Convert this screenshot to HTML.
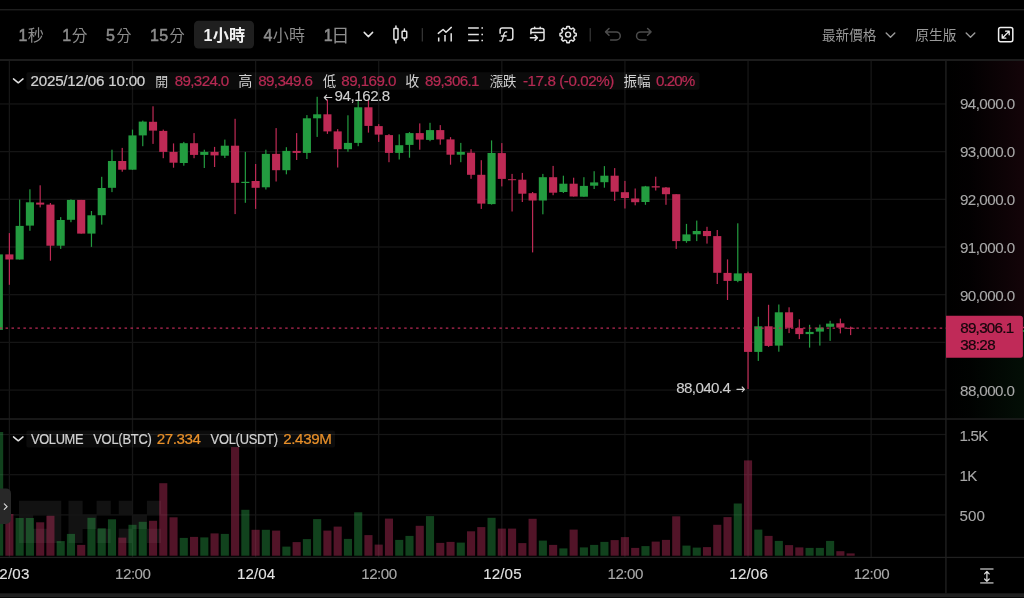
<!DOCTYPE html>
<html><head><meta charset="utf-8"><title>chart</title>
<style>
html,body{margin:0;padding:0;background:#000;}
body{width:1024px;height:598px;overflow:hidden;font-family:"Liberation Sans",sans-serif;}
svg{display:block;position:absolute;left:0;top:0;will-change:transform;}
svg text{font-family:"Liberation Sans","Noto Sans CJK TC",sans-serif;white-space:pre;}
</style></head><body>
<svg width="1024" height="598" viewBox="0 0 1024 598">
<rect width="1024" height="598" fill="#000"/>
<!-- chart -->
<defs><linearGradient id="gr" x1="0" x2="1" y1="0" y2="0"><stop offset="0" stop-color="#c12b57" stop-opacity="0"/><stop offset="0.3" stop-color="#c12b57" stop-opacity="0.012"/><stop offset="1" stop-color="#c12b57" stop-opacity="0.10"/></linearGradient><linearGradient id="gg" x1="0" x2="1" y1="0" y2="0"><stop offset="0" stop-color="#249d42" stop-opacity="0"/><stop offset="0.3" stop-color="#249d42" stop-opacity="0.012"/><stop offset="1" stop-color="#249d42" stop-opacity="0.09"/></linearGradient></defs>
<rect x="0.00" y="9.00" width="1024.00" height="1.40" fill="#1e1e1e"/>
<rect x="0.00" y="59.00" width="1024.00" height="2.00" fill="#1c1c1c"/>
<rect x="946.00" y="61.00" width="78.00" height="267.00" fill="url(#gr)"/>
<rect x="946.00" y="328.00" width="78.00" height="91.00" fill="url(#gg)"/>
<path d="M18.96 500.66h42.29v14.15h-42.29zM18.96 528.80h42.29v14.15h-42.29zM18.96 514.73h14.15v14.15h-14.15zM47.10 514.73h14.15v14.15h-14.15zM68.46 500.66h14.15v42.29h-14.15zM82.53 514.73h14.15v14.15h-14.15zM96.60 500.66h14.15v14.15h-14.15zM96.60 528.80h14.15v14.15h-14.15zM118.76 500.66h14.15v14.15h-14.15zM146.90 500.66h14.15v14.15h-14.15zM132.83 514.73h14.15v14.15h-14.15zM118.76 528.80h14.15v14.15h-14.15zM146.90 528.80h14.15v14.15h-14.15z" fill="#121212"/>
<rect x="8.74" y="61.00" width="1.30" height="496.00" fill="#161616"/>
<rect x="131.85" y="61.00" width="1.30" height="496.00" fill="#161616"/>
<rect x="254.96" y="61.00" width="1.30" height="496.00" fill="#161616"/>
<rect x="378.06" y="61.00" width="1.30" height="496.00" fill="#161616"/>
<rect x="501.17" y="61.00" width="1.30" height="496.00" fill="#161616"/>
<rect x="624.28" y="61.00" width="1.30" height="496.00" fill="#161616"/>
<rect x="747.39" y="61.00" width="1.30" height="496.00" fill="#161616"/>
<rect x="870.50" y="61.00" width="1.30" height="496.00" fill="#161616"/>
<rect x="0.00" y="103.35" width="946.00" height="1.20" fill="#161616"/>
<rect x="0.00" y="151.03" width="946.00" height="1.20" fill="#161616"/>
<rect x="0.00" y="198.72" width="946.00" height="1.20" fill="#161616"/>
<rect x="0.00" y="246.41" width="946.00" height="1.20" fill="#161616"/>
<rect x="0.00" y="294.09" width="946.00" height="1.20" fill="#161616"/>
<rect x="0.00" y="341.77" width="946.00" height="1.20" fill="#161616"/>
<rect x="0.00" y="389.46" width="946.00" height="1.20" fill="#161616"/>
<rect x="0.00" y="433.90" width="946.00" height="1.20" fill="#161616"/>
<rect x="0.00" y="474.10" width="946.00" height="1.20" fill="#161616"/>
<rect x="0.00" y="514.30" width="946.00" height="1.20" fill="#161616"/>
<rect x="0.00" y="418.30" width="1024.00" height="1.45" fill="#212121"/>
<rect x="0.00" y="556.80" width="1024.00" height="1.25" fill="#202020"/>
<rect x="945.25" y="61.00" width="1.35" height="532.30" fill="#202020"/>
<rect x="0.00" y="593.30" width="1024.00" height="4.00" fill="#202020"/>
<rect x="-4.92" y="432.00" width="8.10" height="123.70" fill="#2daa4b" fill-opacity="0.39"/>
<rect x="5.34" y="514.00" width="8.10" height="41.70" fill="#c3305f" fill-opacity="0.42"/>
<rect x="15.60" y="518.00" width="8.10" height="37.70" fill="#2daa4b" fill-opacity="0.39"/>
<rect x="25.86" y="518.00" width="8.10" height="37.70" fill="#2daa4b" fill-opacity="0.39"/>
<rect x="36.12" y="522.30" width="8.10" height="33.40" fill="#c3305f" fill-opacity="0.42"/>
<rect x="46.38" y="515.80" width="8.10" height="39.90" fill="#c3305f" fill-opacity="0.42"/>
<rect x="56.64" y="541.10" width="8.10" height="14.60" fill="#2daa4b" fill-opacity="0.39"/>
<rect x="66.89" y="533.90" width="8.10" height="21.80" fill="#2daa4b" fill-opacity="0.39"/>
<rect x="77.15" y="544.90" width="8.10" height="10.80" fill="#c3305f" fill-opacity="0.42"/>
<rect x="87.41" y="517.80" width="8.10" height="37.90" fill="#2daa4b" fill-opacity="0.39"/>
<rect x="97.67" y="528.30" width="8.10" height="27.40" fill="#2daa4b" fill-opacity="0.39"/>
<rect x="107.93" y="519.30" width="8.10" height="36.40" fill="#2daa4b" fill-opacity="0.39"/>
<rect x="118.19" y="537.60" width="8.10" height="18.10" fill="#c3305f" fill-opacity="0.42"/>
<rect x="128.45" y="524.80" width="8.10" height="30.90" fill="#2daa4b" fill-opacity="0.39"/>
<rect x="138.71" y="521.80" width="8.10" height="33.90" fill="#2daa4b" fill-opacity="0.39"/>
<rect x="148.97" y="520.80" width="8.10" height="34.90" fill="#c3305f" fill-opacity="0.42"/>
<rect x="159.22" y="483.20" width="8.10" height="72.50" fill="#c3305f" fill-opacity="0.42"/>
<rect x="169.48" y="517.30" width="8.10" height="38.40" fill="#c3305f" fill-opacity="0.42"/>
<rect x="179.74" y="537.90" width="8.10" height="17.80" fill="#2daa4b" fill-opacity="0.39"/>
<rect x="190.00" y="536.90" width="8.10" height="18.80" fill="#c3305f" fill-opacity="0.42"/>
<rect x="200.26" y="537.40" width="8.10" height="18.30" fill="#2daa4b" fill-opacity="0.39"/>
<rect x="210.52" y="533.40" width="8.10" height="22.30" fill="#c3305f" fill-opacity="0.42"/>
<rect x="220.78" y="533.90" width="8.10" height="21.80" fill="#2daa4b" fill-opacity="0.39"/>
<rect x="231.04" y="447.10" width="8.10" height="108.60" fill="#c3305f" fill-opacity="0.42"/>
<rect x="241.30" y="509.80" width="8.10" height="45.90" fill="#2daa4b" fill-opacity="0.39"/>
<rect x="251.56" y="529.80" width="8.10" height="25.90" fill="#c3305f" fill-opacity="0.42"/>
<rect x="261.81" y="529.80" width="8.10" height="25.90" fill="#2daa4b" fill-opacity="0.39"/>
<rect x="272.07" y="530.60" width="8.10" height="25.10" fill="#c3305f" fill-opacity="0.42"/>
<rect x="282.33" y="546.60" width="8.10" height="9.10" fill="#2daa4b" fill-opacity="0.39"/>
<rect x="292.59" y="542.10" width="8.10" height="13.60" fill="#c3305f" fill-opacity="0.42"/>
<rect x="302.85" y="539.10" width="8.10" height="16.60" fill="#2daa4b" fill-opacity="0.39"/>
<rect x="313.11" y="519.10" width="8.10" height="36.60" fill="#2daa4b" fill-opacity="0.39"/>
<rect x="323.37" y="530.60" width="8.10" height="25.10" fill="#c3305f" fill-opacity="0.42"/>
<rect x="333.63" y="526.60" width="8.10" height="29.10" fill="#c3305f" fill-opacity="0.42"/>
<rect x="343.89" y="538.90" width="8.10" height="16.80" fill="#2daa4b" fill-opacity="0.39"/>
<rect x="354.15" y="512.30" width="8.10" height="43.40" fill="#2daa4b" fill-opacity="0.39"/>
<rect x="364.40" y="535.10" width="8.10" height="20.60" fill="#c3305f" fill-opacity="0.42"/>
<rect x="374.66" y="544.60" width="8.10" height="11.10" fill="#c3305f" fill-opacity="0.42"/>
<rect x="384.92" y="518.60" width="8.10" height="37.10" fill="#c3305f" fill-opacity="0.42"/>
<rect x="395.18" y="539.90" width="8.10" height="15.80" fill="#2daa4b" fill-opacity="0.39"/>
<rect x="405.44" y="535.90" width="8.10" height="19.80" fill="#2daa4b" fill-opacity="0.39"/>
<rect x="415.70" y="525.80" width="8.10" height="29.90" fill="#c3305f" fill-opacity="0.42"/>
<rect x="425.96" y="516.10" width="8.10" height="39.60" fill="#2daa4b" fill-opacity="0.39"/>
<rect x="436.22" y="542.90" width="8.10" height="12.80" fill="#c3305f" fill-opacity="0.42"/>
<rect x="446.48" y="541.90" width="8.10" height="13.80" fill="#c3305f" fill-opacity="0.42"/>
<rect x="456.74" y="542.60" width="8.10" height="13.10" fill="#2daa4b" fill-opacity="0.39"/>
<rect x="467.00" y="531.30" width="8.10" height="24.40" fill="#c3305f" fill-opacity="0.42"/>
<rect x="477.25" y="527.10" width="8.10" height="28.60" fill="#c3305f" fill-opacity="0.42"/>
<rect x="487.51" y="517.80" width="8.10" height="37.90" fill="#2daa4b" fill-opacity="0.39"/>
<rect x="497.77" y="528.60" width="8.10" height="27.10" fill="#c3305f" fill-opacity="0.42"/>
<rect x="508.03" y="528.60" width="8.10" height="27.10" fill="#c3305f" fill-opacity="0.42"/>
<rect x="518.29" y="543.10" width="8.10" height="12.60" fill="#c3305f" fill-opacity="0.42"/>
<rect x="528.55" y="518.80" width="8.10" height="36.90" fill="#c3305f" fill-opacity="0.42"/>
<rect x="538.81" y="540.60" width="8.10" height="15.10" fill="#2daa4b" fill-opacity="0.39"/>
<rect x="549.07" y="544.90" width="8.10" height="10.80" fill="#c3305f" fill-opacity="0.42"/>
<rect x="559.33" y="548.40" width="8.10" height="7.30" fill="#2daa4b" fill-opacity="0.39"/>
<rect x="569.59" y="529.60" width="8.10" height="26.10" fill="#c3305f" fill-opacity="0.42"/>
<rect x="579.84" y="547.40" width="8.10" height="8.30" fill="#2daa4b" fill-opacity="0.39"/>
<rect x="590.10" y="544.90" width="8.10" height="10.80" fill="#2daa4b" fill-opacity="0.39"/>
<rect x="600.36" y="541.90" width="8.10" height="13.80" fill="#2daa4b" fill-opacity="0.39"/>
<rect x="610.62" y="540.10" width="8.10" height="15.60" fill="#c3305f" fill-opacity="0.42"/>
<rect x="620.88" y="537.10" width="8.10" height="18.60" fill="#c3305f" fill-opacity="0.42"/>
<rect x="631.14" y="547.90" width="8.10" height="7.80" fill="#c3305f" fill-opacity="0.42"/>
<rect x="641.40" y="546.10" width="8.10" height="9.60" fill="#2daa4b" fill-opacity="0.39"/>
<rect x="651.66" y="541.60" width="8.10" height="14.10" fill="#c3305f" fill-opacity="0.42"/>
<rect x="661.92" y="539.90" width="8.10" height="15.80" fill="#c3305f" fill-opacity="0.42"/>
<rect x="672.18" y="516.30" width="8.10" height="39.40" fill="#c3305f" fill-opacity="0.42"/>
<rect x="682.43" y="545.60" width="8.10" height="10.10" fill="#2daa4b" fill-opacity="0.39"/>
<rect x="692.69" y="547.60" width="8.10" height="8.10" fill="#2daa4b" fill-opacity="0.39"/>
<rect x="702.95" y="547.10" width="8.10" height="8.60" fill="#c3305f" fill-opacity="0.42"/>
<rect x="713.21" y="524.80" width="8.10" height="30.90" fill="#c3305f" fill-opacity="0.42"/>
<rect x="723.47" y="517.10" width="8.10" height="38.60" fill="#c3305f" fill-opacity="0.42"/>
<rect x="733.73" y="503.50" width="8.10" height="52.20" fill="#2daa4b" fill-opacity="0.39"/>
<rect x="743.99" y="460.40" width="8.10" height="95.30" fill="#c3305f" fill-opacity="0.42"/>
<rect x="754.25" y="529.60" width="8.10" height="26.10" fill="#2daa4b" fill-opacity="0.39"/>
<rect x="764.51" y="535.90" width="8.10" height="19.80" fill="#c3305f" fill-opacity="0.42"/>
<rect x="774.77" y="540.90" width="8.10" height="14.80" fill="#2daa4b" fill-opacity="0.39"/>
<rect x="785.02" y="545.10" width="8.10" height="10.60" fill="#c3305f" fill-opacity="0.42"/>
<rect x="795.28" y="547.40" width="8.10" height="8.30" fill="#c3305f" fill-opacity="0.42"/>
<rect x="805.54" y="547.90" width="8.10" height="7.80" fill="#2daa4b" fill-opacity="0.39"/>
<rect x="815.80" y="547.90" width="8.10" height="7.80" fill="#2daa4b" fill-opacity="0.39"/>
<rect x="826.06" y="540.90" width="8.10" height="14.80" fill="#2daa4b" fill-opacity="0.39"/>
<rect x="836.32" y="551.20" width="8.10" height="4.50" fill="#c3305f" fill-opacity="0.42"/>
<rect x="846.58" y="553.40" width="8.10" height="2.30" fill="#c3305f" fill-opacity="0.42"/>
<rect x="-1.77" y="254.40" width="1.20" height="75.50" fill="#239c40"/>
<rect x="-5.22" y="254.40" width="8.10" height="75.50" fill="#239c40"/>
<rect x="8.79" y="233.10" width="1.20" height="51.70" fill="#be2a55"/>
<rect x="5.34" y="254.40" width="8.10" height="5.10" fill="#be2a55"/>
<rect x="19.05" y="199.50" width="1.20" height="60.00" fill="#239c40"/>
<rect x="15.60" y="225.90" width="8.10" height="33.60" fill="#239c40"/>
<rect x="29.31" y="189.30" width="1.20" height="41.50" fill="#239c40"/>
<rect x="25.86" y="202.30" width="8.10" height="23.30" fill="#239c40"/>
<rect x="39.57" y="185.30" width="1.20" height="22.10" fill="#be2a55"/>
<rect x="36.12" y="202.60" width="8.10" height="2.00" fill="#be2a55"/>
<rect x="49.83" y="203.00" width="1.20" height="57.70" fill="#be2a55"/>
<rect x="46.38" y="204.60" width="8.10" height="41.10" fill="#be2a55"/>
<rect x="60.09" y="217.10" width="1.20" height="31.80" fill="#239c40"/>
<rect x="56.64" y="220.00" width="8.10" height="25.70" fill="#239c40"/>
<rect x="70.34" y="199.40" width="1.20" height="22.80" fill="#239c40"/>
<rect x="66.89" y="199.90" width="8.10" height="19.90" fill="#239c40"/>
<rect x="80.60" y="199.90" width="1.20" height="33.70" fill="#be2a55"/>
<rect x="77.15" y="199.90" width="8.10" height="33.70" fill="#be2a55"/>
<rect x="90.86" y="211.00" width="1.20" height="35.90" fill="#239c40"/>
<rect x="87.41" y="215.30" width="8.10" height="18.30" fill="#239c40"/>
<rect x="101.12" y="176.80" width="1.20" height="47.80" fill="#239c40"/>
<rect x="97.67" y="188.00" width="8.10" height="27.20" fill="#239c40"/>
<rect x="111.38" y="149.70" width="1.20" height="42.40" fill="#239c40"/>
<rect x="107.93" y="161.00" width="8.10" height="26.80" fill="#239c40"/>
<rect x="121.64" y="147.90" width="1.20" height="23.80" fill="#be2a55"/>
<rect x="118.19" y="161.00" width="8.10" height="8.70" fill="#be2a55"/>
<rect x="131.90" y="129.60" width="1.20" height="40.10" fill="#239c40"/>
<rect x="128.45" y="135.40" width="8.10" height="34.30" fill="#239c40"/>
<rect x="142.16" y="120.60" width="1.20" height="25.60" fill="#239c40"/>
<rect x="138.71" y="121.60" width="8.10" height="13.80" fill="#239c40"/>
<rect x="152.42" y="106.30" width="1.20" height="37.60" fill="#be2a55"/>
<rect x="148.97" y="121.80" width="8.10" height="8.80" fill="#be2a55"/>
<rect x="162.67" y="129.60" width="1.20" height="28.60" fill="#be2a55"/>
<rect x="159.22" y="130.90" width="8.10" height="21.00" fill="#be2a55"/>
<rect x="172.93" y="143.40" width="1.20" height="24.30" fill="#be2a55"/>
<rect x="169.48" y="151.90" width="8.10" height="10.80" fill="#be2a55"/>
<rect x="183.19" y="141.90" width="1.20" height="23.80" fill="#239c40"/>
<rect x="179.74" y="143.20" width="8.10" height="19.80" fill="#239c40"/>
<rect x="193.45" y="133.10" width="1.20" height="25.10" fill="#be2a55"/>
<rect x="190.00" y="143.20" width="8.10" height="11.70" fill="#be2a55"/>
<rect x="203.71" y="149.70" width="1.20" height="18.30" fill="#239c40"/>
<rect x="200.26" y="151.90" width="8.10" height="3.00" fill="#239c40"/>
<rect x="213.97" y="146.90" width="1.20" height="20.10" fill="#be2a55"/>
<rect x="210.52" y="151.90" width="8.10" height="3.50" fill="#be2a55"/>
<rect x="224.23" y="139.60" width="1.20" height="18.40" fill="#239c40"/>
<rect x="220.78" y="145.70" width="8.10" height="10.00" fill="#239c40"/>
<rect x="234.49" y="118.80" width="1.20" height="95.30" fill="#be2a55"/>
<rect x="231.04" y="145.70" width="8.10" height="37.10" fill="#be2a55"/>
<rect x="244.75" y="151.90" width="1.20" height="50.90" fill="#239c40"/>
<rect x="241.30" y="181.80" width="8.10" height="1.20" fill="#239c40"/>
<rect x="255.01" y="164.00" width="1.20" height="44.90" fill="#be2a55"/>
<rect x="251.56" y="181.00" width="8.10" height="6.80" fill="#be2a55"/>
<rect x="265.26" y="149.70" width="1.20" height="39.80" fill="#239c40"/>
<rect x="261.81" y="153.90" width="8.10" height="33.40" fill="#239c40"/>
<rect x="275.52" y="128.10" width="1.20" height="53.40" fill="#be2a55"/>
<rect x="272.07" y="153.90" width="8.10" height="16.30" fill="#be2a55"/>
<rect x="285.78" y="147.20" width="1.20" height="27.10" fill="#239c40"/>
<rect x="282.33" y="150.90" width="8.10" height="19.30" fill="#239c40"/>
<rect x="296.04" y="133.10" width="1.20" height="26.90" fill="#be2a55"/>
<rect x="292.59" y="150.90" width="8.10" height="2.00" fill="#be2a55"/>
<rect x="306.30" y="115.10" width="1.20" height="43.90" fill="#239c40"/>
<rect x="302.85" y="118.30" width="8.10" height="34.60" fill="#239c40"/>
<rect x="316.56" y="96.80" width="1.20" height="40.10" fill="#239c40"/>
<rect x="313.11" y="114.30" width="8.10" height="4.00" fill="#239c40"/>
<rect x="326.82" y="99.50" width="1.20" height="34.40" fill="#be2a55"/>
<rect x="323.37" y="114.30" width="8.10" height="17.10" fill="#be2a55"/>
<rect x="337.08" y="129.10" width="1.20" height="38.40" fill="#be2a55"/>
<rect x="333.63" y="131.40" width="8.10" height="17.80" fill="#be2a55"/>
<rect x="347.34" y="115.30" width="1.20" height="36.40" fill="#239c40"/>
<rect x="343.89" y="142.90" width="8.10" height="6.30" fill="#239c40"/>
<rect x="357.60" y="100.00" width="1.20" height="46.20" fill="#239c40"/>
<rect x="354.15" y="107.30" width="8.10" height="35.60" fill="#239c40"/>
<rect x="367.85" y="100.00" width="1.20" height="32.60" fill="#be2a55"/>
<rect x="364.40" y="107.30" width="8.10" height="18.60" fill="#be2a55"/>
<rect x="378.11" y="124.10" width="1.20" height="17.80" fill="#be2a55"/>
<rect x="374.66" y="126.10" width="8.10" height="8.50" fill="#be2a55"/>
<rect x="388.37" y="134.10" width="1.20" height="28.10" fill="#be2a55"/>
<rect x="384.92" y="135.10" width="8.10" height="17.80" fill="#be2a55"/>
<rect x="398.63" y="134.40" width="1.20" height="25.10" fill="#239c40"/>
<rect x="395.18" y="145.20" width="8.10" height="7.70" fill="#239c40"/>
<rect x="408.89" y="132.10" width="1.20" height="25.60" fill="#239c40"/>
<rect x="405.44" y="133.10" width="8.10" height="11.80" fill="#239c40"/>
<rect x="419.15" y="123.40" width="1.20" height="26.30" fill="#be2a55"/>
<rect x="415.70" y="133.10" width="8.10" height="6.50" fill="#be2a55"/>
<rect x="429.41" y="122.80" width="1.20" height="18.40" fill="#239c40"/>
<rect x="425.96" y="130.10" width="8.10" height="9.80" fill="#239c40"/>
<rect x="439.67" y="125.10" width="1.20" height="19.60" fill="#be2a55"/>
<rect x="436.22" y="130.10" width="8.10" height="9.30" fill="#be2a55"/>
<rect x="449.93" y="137.10" width="1.20" height="27.60" fill="#be2a55"/>
<rect x="446.48" y="139.40" width="8.10" height="15.30" fill="#be2a55"/>
<rect x="460.19" y="142.90" width="1.20" height="19.30" fill="#239c40"/>
<rect x="456.74" y="151.90" width="8.10" height="2.80" fill="#239c40"/>
<rect x="470.44" y="149.20" width="1.20" height="29.60" fill="#be2a55"/>
<rect x="467.00" y="152.70" width="8.10" height="22.10" fill="#be2a55"/>
<rect x="480.70" y="160.20" width="1.20" height="48.70" fill="#be2a55"/>
<rect x="477.25" y="174.80" width="8.10" height="28.80" fill="#be2a55"/>
<rect x="490.96" y="140.40" width="1.20" height="64.20" fill="#239c40"/>
<rect x="487.51" y="153.00" width="8.10" height="51.10" fill="#239c40"/>
<rect x="501.22" y="143.10" width="1.20" height="43.30" fill="#be2a55"/>
<rect x="497.77" y="153.10" width="8.10" height="25.80" fill="#be2a55"/>
<rect x="511.48" y="173.90" width="1.20" height="37.60" fill="#be2a55"/>
<rect x="508.03" y="179.20" width="8.10" height="1.00" fill="#be2a55"/>
<rect x="521.74" y="172.90" width="1.20" height="29.10" fill="#be2a55"/>
<rect x="518.29" y="179.70" width="8.10" height="14.00" fill="#be2a55"/>
<rect x="532.00" y="192.00" width="1.20" height="60.40" fill="#be2a55"/>
<rect x="528.55" y="193.20" width="8.10" height="7.30" fill="#be2a55"/>
<rect x="542.26" y="173.90" width="1.20" height="40.40" fill="#239c40"/>
<rect x="538.81" y="177.20" width="8.10" height="23.30" fill="#239c40"/>
<rect x="552.52" y="165.90" width="1.20" height="29.30" fill="#be2a55"/>
<rect x="549.07" y="177.20" width="8.10" height="15.50" fill="#be2a55"/>
<rect x="562.78" y="175.70" width="1.20" height="17.30" fill="#239c40"/>
<rect x="559.33" y="183.70" width="8.10" height="8.30" fill="#239c40"/>
<rect x="573.03" y="177.70" width="1.20" height="18.80" fill="#be2a55"/>
<rect x="569.59" y="183.70" width="8.10" height="12.80" fill="#be2a55"/>
<rect x="583.29" y="177.20" width="1.20" height="19.50" fill="#239c40"/>
<rect x="579.84" y="185.90" width="8.10" height="10.80" fill="#239c40"/>
<rect x="593.55" y="171.20" width="1.20" height="17.80" fill="#239c40"/>
<rect x="590.10" y="182.40" width="8.10" height="3.30" fill="#239c40"/>
<rect x="603.81" y="166.10" width="1.20" height="21.60" fill="#239c40"/>
<rect x="600.36" y="175.70" width="8.10" height="6.50" fill="#239c40"/>
<rect x="614.07" y="168.10" width="1.20" height="32.90" fill="#be2a55"/>
<rect x="610.62" y="175.70" width="8.10" height="16.00" fill="#be2a55"/>
<rect x="624.33" y="180.90" width="1.20" height="27.60" fill="#be2a55"/>
<rect x="620.88" y="192.20" width="8.10" height="5.80" fill="#be2a55"/>
<rect x="634.59" y="188.50" width="1.20" height="16.80" fill="#be2a55"/>
<rect x="631.14" y="198.50" width="8.10" height="3.70" fill="#be2a55"/>
<rect x="644.85" y="185.90" width="1.20" height="18.90" fill="#239c40"/>
<rect x="641.40" y="186.40" width="8.10" height="15.60" fill="#239c40"/>
<rect x="655.11" y="176.70" width="1.20" height="13.80" fill="#be2a55"/>
<rect x="651.66" y="186.20" width="8.10" height="1.30" fill="#be2a55"/>
<rect x="665.37" y="187.00" width="1.20" height="17.80" fill="#be2a55"/>
<rect x="661.92" y="187.50" width="8.10" height="6.70" fill="#be2a55"/>
<rect x="675.62" y="194.20" width="1.20" height="54.70" fill="#be2a55"/>
<rect x="672.18" y="194.20" width="8.10" height="46.90" fill="#be2a55"/>
<rect x="685.88" y="223.90" width="1.20" height="18.90" fill="#239c40"/>
<rect x="682.43" y="234.40" width="8.10" height="6.70" fill="#239c40"/>
<rect x="696.14" y="220.60" width="1.20" height="20.50" fill="#239c40"/>
<rect x="692.69" y="231.00" width="8.10" height="3.30" fill="#239c40"/>
<rect x="706.40" y="226.80" width="1.20" height="16.80" fill="#be2a55"/>
<rect x="702.95" y="231.00" width="8.10" height="5.10" fill="#be2a55"/>
<rect x="716.66" y="230.00" width="1.20" height="54.00" fill="#be2a55"/>
<rect x="713.21" y="236.10" width="8.10" height="36.70" fill="#be2a55"/>
<rect x="726.92" y="259.40" width="1.20" height="40.60" fill="#be2a55"/>
<rect x="723.47" y="272.90" width="8.10" height="8.00" fill="#be2a55"/>
<rect x="737.18" y="223.30" width="1.20" height="58.90" fill="#239c40"/>
<rect x="733.73" y="273.40" width="8.10" height="7.50" fill="#239c40"/>
<rect x="747.44" y="271.70" width="1.20" height="117.30" fill="#be2a55"/>
<rect x="743.99" y="273.20" width="8.10" height="78.70" fill="#be2a55"/>
<rect x="757.70" y="316.80" width="1.20" height="44.10" fill="#239c40"/>
<rect x="754.25" y="326.30" width="8.10" height="25.60" fill="#239c40"/>
<rect x="767.96" y="304.80" width="1.20" height="42.10" fill="#be2a55"/>
<rect x="764.51" y="326.30" width="8.10" height="19.60" fill="#be2a55"/>
<rect x="778.22" y="304.50" width="1.20" height="47.20" fill="#239c40"/>
<rect x="774.77" y="312.30" width="8.10" height="33.30" fill="#239c40"/>
<rect x="788.47" y="307.30" width="1.20" height="25.80" fill="#be2a55"/>
<rect x="785.02" y="312.30" width="8.10" height="15.50" fill="#be2a55"/>
<rect x="798.73" y="319.30" width="1.20" height="19.80" fill="#be2a55"/>
<rect x="795.28" y="328.10" width="8.10" height="6.00" fill="#be2a55"/>
<rect x="808.99" y="324.80" width="1.20" height="22.80" fill="#239c40"/>
<rect x="805.54" y="331.90" width="8.10" height="2.20" fill="#239c40"/>
<rect x="819.25" y="324.60" width="1.20" height="21.00" fill="#239c40"/>
<rect x="815.80" y="327.60" width="8.10" height="4.00" fill="#239c40"/>
<rect x="829.51" y="320.80" width="1.20" height="20.10" fill="#239c40"/>
<rect x="826.06" y="323.60" width="8.10" height="3.20" fill="#239c40"/>
<rect x="839.77" y="318.60" width="1.20" height="14.80" fill="#be2a55"/>
<rect x="836.32" y="323.30" width="8.10" height="4.30" fill="#be2a55"/>
<rect x="850.03" y="326.60" width="1.20" height="8.50" fill="#be2a55"/>
<rect x="846.58" y="327.80" width="8.10" height="1.00" fill="#be2a55"/>
<line x1="-0.4" y1="328.1" x2="946" y2="328.1" stroke="#b82a55" stroke-width="1.2" stroke-dasharray="2.5 3.45"/>
<!-- toolbar -->
<text x="18.6" y="40.50" font-size="16" fill="#8c8c8c" stroke="#8c8c8c" stroke-width="0.5">1</text>
<text x="27.78" y="41.13" font-size="16.13" fill="#8c8c8c">秒</text>
<text x="62.2" y="40.50" font-size="16" fill="#8c8c8c" stroke="#8c8c8c" stroke-width="0.5">1</text>
<text x="71.66" y="40.97" font-size="15.72" fill="#8c8c8c">分</text>
<text x="106.09" y="40.50" font-size="16" fill="#8c8c8c" stroke="#8c8c8c" stroke-width="0.5">5</text>
<text x="116.48" y="40.65" font-size="14.87" fill="#8c8c8c">分</text>
<text x="150.1" y="40.50" font-size="16" fill="#8c8c8c" stroke="#8c8c8c" stroke-width="0.5">1</text>
<text x="159.29" y="40.50" font-size="16" fill="#8c8c8c" stroke="#8c8c8c" stroke-width="0.5">5</text>
<text x="169.57" y="40.77" font-size="15.19" fill="#8c8c8c">分</text>
<rect x="194" y="20.8" width="60" height="27.8" rx="4.5" fill="#1f1f1f"/>
<text x="203.6" y="40.50" font-size="16" font-weight="bold" fill="#f2f2f2">1</text>
<text x="212.74" y="41.16" font-size="16.2" font-weight="bold" fill="#f2f2f2">小時</text>
<text x="263.56" y="40.50" font-size="16" fill="#8c8c8c" stroke="#8c8c8c" stroke-width="0.5">4</text>
<text x="272.85" y="41.09" font-size="16.04" fill="#8c8c8c">小時</text>
<text x="323.7" y="40.50" font-size="16" fill="#8c8c8c" stroke="#8c8c8c" stroke-width="0.5">1</text>
<text x="331.25" y="41.93" font-size="18.25" fill="#8c8c8c">日</text>
<!-- icons -->
<path d="M364.2 32.4 L368.4 36.6 L372.6 32.4" fill="none" stroke="#e4e4e4" stroke-width="1.5" stroke-linecap="round" stroke-linejoin="round"/>
<path d="M394.5 28.45 h2.9 a0.6 0.6 0 0 1 0.6 0.6 v9.8 a0.6 0.6 0 0 1 -0.6 0.6 h-2.9 a0.6 0.6 0 0 1 -0.6 -0.6 v-9.8 a0.6 0.6 0 0 1 0.6 -0.6 z M395.95 25.9 V28.4 M395.95 39.5 V42.9" fill="none" stroke="#e4e4e4" stroke-width="1.5" stroke-linecap="round" stroke-linejoin="round"/>
<path d="M402.7 31.3 h3.4 a0.6 0.6 0 0 1 0.6 0.6 v5.4 a0.6 0.6 0 0 1 -0.6 0.6 h-3.4 a0.6 0.6 0 0 1 -0.6 -0.6 v-5.4 a0.6 0.6 0 0 1 0.6 -0.6 z M404.4 28.9 V31.3 M404.4 37.9 V40.5" fill="none" stroke="#e4e4e4" stroke-width="1.5" stroke-linecap="round" stroke-linejoin="round"/>
<rect x="421.70" y="28.10" width="1.30" height="13.40" fill="#333333"/>
<path d="M438.3 33.4 L443.1 29.5 L446 32.2 L451.3 27.4" fill="none" stroke="#e4e4e4" stroke-width="1.5" stroke-linecap="round" stroke-linejoin="round"/>
<path d="M438.7 37.6 V41.5 M445 35.1 V41.5 M451.2 33.2 V41.5" fill="none" stroke="#e4e4e4" stroke-width="1.5" stroke-linecap="butt" stroke-linejoin="round"/>
<path d="M468.1 28.1 H478.8 M468.1 34.4 H478.8 M468.1 40.6 H478.8 M481.4 28.1 H483 M481.4 34.4 H483 M481.4 40.6 H483" fill="none" stroke="#e4e4e4" stroke-width="1.5" stroke-linecap="butt" stroke-linejoin="round"/>
<path d="M500.1 33.3 V30.1 a2.2 2.2 0 0 1 2.2 -2.2 H510.6 a2.2 2.2 0 0 1 2.2 2.2 V37.7 a2.2 2.2 0 0 1 -2.2 2.2 H507.4" fill="none" stroke="#e4e4e4" stroke-width="1.5" stroke-linecap="round" stroke-linejoin="round"/>
<path d="M499.8 40.9 c1.8 0.5 2.6 -0.4 3 -2.2 l1.1 -4.6 c0.4 -1.7 1.2 -2.4 2.8 -2.1 M501.4 36 H506.2" fill="none" stroke="#e4e4e4" stroke-width="1.3" stroke-linecap="round" stroke-linejoin="round"/>
<path d="M530.9 33.8 V30.6 a2 2 0 0 1 2 -2 H542 a2 2 0 0 1 2 2 V38.5 a2 2 0 0 1 -2 2 H539.6 M530.9 32.4 H544 M534.7 27.3 V28.8 M540.2 27.3 V28.8 M530.4 37.75 H537.3 M535 35.3 L537.45 37.75 L535 40.2" fill="none" stroke="#e4e4e4" stroke-width="1.5" stroke-linecap="round" stroke-linejoin="round"/>
<path d="M566.88 26.49 L569.32 26.49 L569.67 28.29 L571.45 29.03 L572.97 28.00 L574.70 29.73 L573.67 31.25 L574.41 33.03 L576.21 33.38 L576.21 35.82 L574.41 36.17 L573.67 37.95 L574.70 39.47 L572.97 41.20 L571.45 40.17 L569.67 40.91 L569.32 42.71 L566.88 42.71 L566.53 40.91 L564.75 40.17 L563.23 41.20 L561.50 39.47 L562.53 37.95 L561.79 36.17 L559.99 35.82 L559.99 33.38 L561.79 33.03 L562.53 31.25 L561.50 29.73 L563.23 28.00 L564.75 29.03 L566.53 28.29 Z" fill="none" stroke="#e4e4e4" stroke-width="1.5" stroke-linecap="round" stroke-linejoin="round"/>
<circle cx="568.1" cy="34.6" r="2.5" fill="none" stroke="#e4e4e4" stroke-width="1.4"/>
<rect x="589.60" y="28.10" width="1.30" height="13.40" fill="#333333"/>
<path d="M609 28.5 L605.6 31.9 L609 35.3 M605.8 31.9 H616.2 a4.05 4.05 0 0 1 0 8.1 H610.6" fill="none" stroke="#4c4c4c" stroke-width="1.5" stroke-linecap="round" stroke-linejoin="round"/>
<path d="M647.6 28.5 L651 31.9 L647.6 35.3 M650.8 31.9 H640.6 a4.05 4.05 0 0 0 0 8.1 H646" fill="none" stroke="#4c4c4c" stroke-width="1.5" stroke-linecap="round" stroke-linejoin="round"/>
<text x="822.03" y="39.86" font-size="13.59" fill="#9a9a9a">最新價格</text>
<path d="M886.2 33 L890.5 37.2 L894.8 33" fill="none" stroke="#9a9a9a" stroke-width="1.4" stroke-linecap="round" stroke-linejoin="round"/>
<text x="915.20" y="39.91" font-size="13.72" fill="#9a9a9a">原生版</text>
<path d="M966.2 33 L970.5 37.2 L974.8 33" fill="none" stroke="#9a9a9a" stroke-width="1.4" stroke-linecap="round" stroke-linejoin="round"/>
<rect x="998.6" y="27.6" width="14.2" height="14.2" rx="2" fill="none" stroke="#f0f0f0" stroke-width="1.5"/>
<path d="M1002.4 38 L1009 31.4 M1005.6 31.2 H1009.2 V34.8 M1002.2 34.6 V38.2 H1005.8" fill="none" stroke="#f0f0f0" stroke-width="1.3" stroke-linecap="round" stroke-linejoin="round"/>
<!-- legends / labels -->
<rect x="26.40" y="72.20" width="673.10" height="17.60" fill="#ffffff" rx="2" fill-opacity="0.042"/>
<path d="M13.5 78.9 L18.25 82.8 L23.0 78.9" fill="none" stroke="#e0e0e0" stroke-width="1.5" stroke-linecap="round" stroke-linejoin="round"/>
<text transform="translate(30.51,85.92) scale(1.06,1)" font-size="14.3" fill="#d2d2d2" letter-spacing="-0.195" stroke="#d2d2d2" stroke-width="0.22">2025/12/06 10:00</text>
<text x="155.15" y="85.92" font-size="12.94" fill="#d2d2d2">開</text>
<text transform="translate(174.75,85.92) scale(1.06,1)" font-size="14.3" fill="#b62a53" letter-spacing="-0.606" stroke="#b62a53" stroke-width="0.22">89,324.0</text>
<text x="238.37" y="86.37" font-size="14.12" fill="#d2d2d2">高</text>
<text transform="translate(258.25,85.92) scale(1.06,1)" font-size="14.3" fill="#b62a53" letter-spacing="-0.583" stroke="#b62a53" stroke-width="0.22">89,349.6</text>
<text x="322.88" y="85.98" font-size="13.09" fill="#d2d2d2">低</text>
<text transform="translate(341.25,85.92) scale(1.06,1)" font-size="14.3" fill="#b62a53" letter-spacing="-0.512" stroke="#b62a53" stroke-width="0.22">89,169.0</text>
<text x="405.34" y="86.34" font-size="14.06" fill="#d2d2d2">收</text>
<text transform="translate(424.95,85.92) scale(1.06,1)" font-size="14.3" fill="#b62a53" letter-spacing="-0.592" stroke="#b62a53" stroke-width="0.22">89,306.1</text>
<text x="489.73" y="86.09" font-size="13.4" fill="#d2d2d2">漲跌</text>
<text transform="translate(522.99,85.92) scale(1.06,1)" font-size="14.3" fill="#b62a53" letter-spacing="-0.393" stroke="#b62a53" stroke-width="0.22">-17.8 (-0.02%)</text>
<text x="623.40" y="86.16" font-size="13.58" fill="#d2d2d2">振幅</text>
<text transform="translate(656.00,85.92) scale(1.06,1)" font-size="14.3" fill="#b62a53" letter-spacing="-0.854" stroke="#b62a53" stroke-width="0.22">0.20%</text>
<rect x="26.40" y="430.60" width="308.60" height="16.80" fill="#ffffff" rx="2" fill-opacity="0.042"/>
<path d="M13.5 436.9 L18.25 440.8 L23.0 436.9" fill="none" stroke="#e0e0e0" stroke-width="1.5" stroke-linecap="round" stroke-linejoin="round"/>
<text transform="translate(30.96,443.92) scale(0.9,1)" font-size="14.3" fill="#d2d2d2" letter-spacing="-0.392" stroke="#d2d2d2" stroke-width="0.22">VOLUME</text>
<text transform="translate(93.26,443.92) scale(0.9,1)" font-size="14.3" fill="#d2d2d2" letter-spacing="-0.247" stroke="#d2d2d2" stroke-width="0.22">VOL(BTC)</text>
<text transform="translate(156.81,443.92) scale(1.06,1)" font-size="14.3" fill="#e8902a" letter-spacing="-0.435" stroke="#e8902a" stroke-width="0.22">27.334</text>
<text transform="translate(210.56,443.92) scale(0.9,1)" font-size="14.3" fill="#d2d2d2" letter-spacing="-0.255" stroke="#d2d2d2" stroke-width="0.22">VOL(USDT)</text>
<text transform="translate(283.21,443.92) scale(1.06,1)" font-size="14.3" fill="#e8902a" letter-spacing="-0.349" stroke="#e8902a" stroke-width="0.22">2.439M</text>
<path d="M331.8 97.5 H324.3 M326.6 95.2 L324.3 97.5 L326.6 99.8" fill="none" stroke="#cfcfcf" stroke-width="1.15" stroke-linecap="round" stroke-linejoin="round"/>
<text transform="translate(334.56,101.12) scale(1.06,1)" font-size="14.3" fill="#cfcfcf" letter-spacing="-0.432" stroke="#cfcfcf" stroke-width="0.1">94,162.8</text>
<text transform="translate(676.25,392.92) scale(1.06,1)" font-size="14.3" fill="#cfcfcf" letter-spacing="-0.580" stroke="#cfcfcf" stroke-width="0.1">88,040.4</text>
<path d="M736.9 389.3 H744.5 M742.2 387.0 L744.5 389.3 L742.2 391.6" fill="none" stroke="#cfcfcf" stroke-width="1.15" stroke-linecap="round" stroke-linejoin="round"/>
<text transform="translate(959.96,109.22) scale(1.06,1)" font-size="14.3" fill="#a8a8a8" letter-spacing="-0.514" stroke="#a8a8a8" stroke-width="0.1">94,000.0</text>
<text transform="translate(959.96,157.04) scale(1.06,1)" font-size="14.3" fill="#a8a8a8" letter-spacing="-0.514" stroke="#a8a8a8" stroke-width="0.1">93,000.0</text>
<text transform="translate(959.96,204.86) scale(1.06,1)" font-size="14.3" fill="#a8a8a8" letter-spacing="-0.514" stroke="#a8a8a8" stroke-width="0.1">92,000.0</text>
<text transform="translate(959.96,252.68) scale(1.06,1)" font-size="14.3" fill="#a8a8a8" letter-spacing="-0.514" stroke="#a8a8a8" stroke-width="0.1">91,000.0</text>
<text transform="translate(959.96,300.50) scale(1.06,1)" font-size="14.3" fill="#a8a8a8" letter-spacing="-0.514" stroke="#a8a8a8" stroke-width="0.1">90,000.0</text>
<text transform="translate(960.05,396.14) scale(1.06,1)" font-size="14.3" fill="#a8a8a8" letter-spacing="-0.549" stroke="#a8a8a8" stroke-width="0.1">88,000.0</text>
<text transform="translate(959.49,440.62) scale(1.06,1)" font-size="14.3" fill="#a8a8a8" letter-spacing="-0.753" stroke="#a8a8a8" stroke-width="0.1">1.5K</text>
<text transform="translate(959.49,480.72) scale(1.06,1)" font-size="14.3" fill="#a8a8a8" letter-spacing="-0.593" stroke="#a8a8a8" stroke-width="0.1">1K</text>
<text transform="translate(959.60,521.07) scale(1.06,1)" font-size="14.3" fill="#a8a8a8" letter-spacing="0.027" stroke="#a8a8a8" stroke-width="0.1">500</text>
<path d="M946 315.7 H1020.4 a2.5 2.5 0 0 1 2.5 2.5 V355.2 a2.5 2.5 0 0 1 -2.5 2.5 H946 Z" fill="#c02a58"/>
<rect x="1022.80" y="326.80" width="1.20" height="1.40" fill="#b82a55"/>
<rect x="1022.80" y="330.30" width="1.20" height="1.40" fill="#249d42"/>
<text transform="translate(960.15,333.12) scale(1.06,1)" font-size="14.3" fill="#14060b" letter-spacing="-0.648" stroke="#14060b" stroke-width="0.22">89,306.1</text>
<text transform="translate(960.15,349.62) scale(1.06,1)" font-size="14.3" fill="#14060b" letter-spacing="-0.585" stroke="#14060b" stroke-width="0.22">38:28</text>
<text transform="translate(-9.30,579.07) scale(1.06,1)" font-size="14.3" fill="#e2e2e2" letter-spacing="0.167" stroke="#e2e2e2" stroke-width="0.1">12/03</text>
<text transform="translate(115.01,579.07) scale(1.06,1)" font-size="14.3" fill="#a8a8a8" letter-spacing="-0.457" stroke="#a8a8a8" stroke-width="0.1">12:00</text>
<text transform="translate(236.92,579.07) scale(1.06,1)" font-size="14.3" fill="#e2e2e2" letter-spacing="0.104" stroke="#e2e2e2" stroke-width="0.1">12/04</text>
<text transform="translate(361.22,579.07) scale(1.06,1)" font-size="14.3" fill="#a8a8a8" letter-spacing="-0.457" stroke="#a8a8a8" stroke-width="0.1">12:00</text>
<text transform="translate(483.13,579.07) scale(1.06,1)" font-size="14.3" fill="#e2e2e2" letter-spacing="0.134" stroke="#e2e2e2" stroke-width="0.1">12/05</text>
<text transform="translate(607.44,579.07) scale(1.06,1)" font-size="14.3" fill="#a8a8a8" letter-spacing="-0.457" stroke="#a8a8a8" stroke-width="0.1">12:00</text>
<text transform="translate(729.35,579.07) scale(1.06,1)" font-size="14.3" fill="#e2e2e2" letter-spacing="0.145" stroke="#e2e2e2" stroke-width="0.1">12/06</text>
<text transform="translate(853.66,579.07) scale(1.06,1)" font-size="14.3" fill="#a8a8a8" letter-spacing="-0.457" stroke="#a8a8a8" stroke-width="0.1">12:00</text>
<rect x="980.20" y="568.10" width="13.30" height="1.80" fill="#8c8c8c"/>
<rect x="980.20" y="582.00" width="13.30" height="1.80" fill="#8c8c8c"/>
<path d="M986.9 571.6 V581.2 M984.6 573.8 L986.9 571.5 L989.2 573.8 M984.6 579 L986.9 581.3 L989.2 579" fill="none" stroke="#e0e0e0" stroke-width="1.2" stroke-linecap="round" stroke-linejoin="round"/>
<rect x="-6" y="488.4" width="17" height="35.6" rx="5" fill="#282828"/>
<path d="M4.3 503.8 L7.1 506.6 L4.3 509.4" fill="none" stroke="#d8d8d8" stroke-width="1.2" stroke-linecap="round" stroke-linejoin="round"/>
</svg>
</body></html>
